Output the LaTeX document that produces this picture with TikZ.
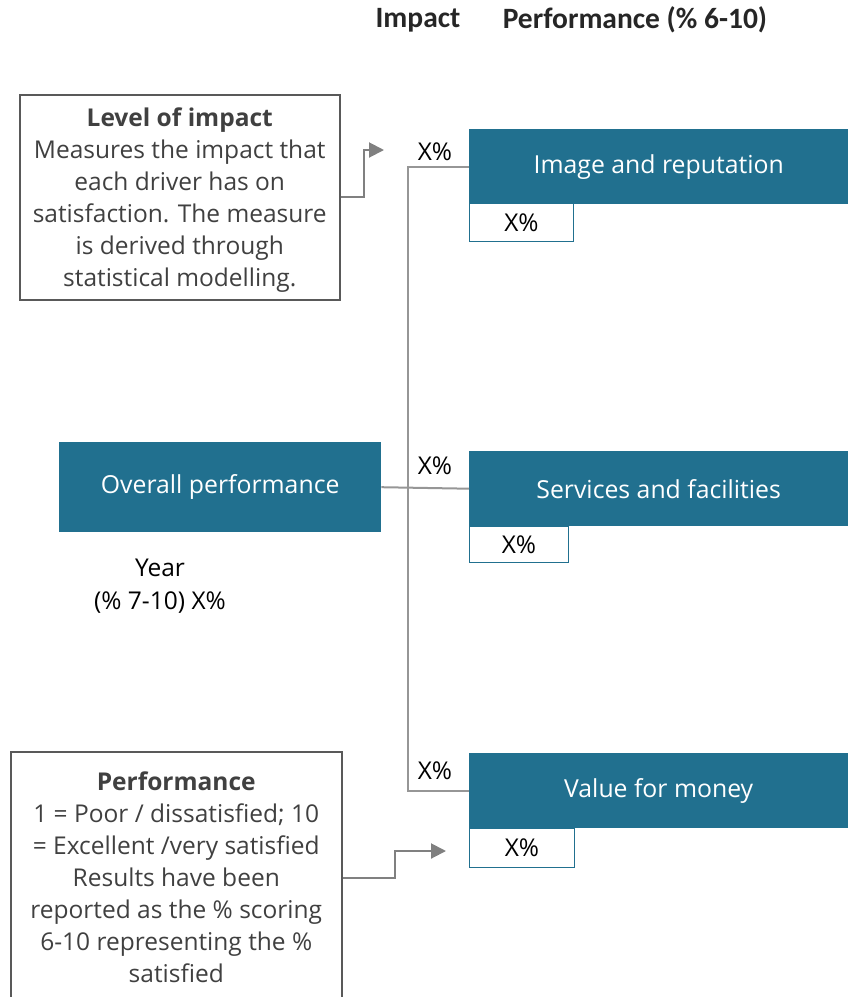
\documentclass[tikz,border=0pt]{standalone}
\usepackage{fontspec}
\setmainfont{Open Sans}
\newfontfamily\hdrfont{Carlito}
\usetikzlibrary{arrows.meta}
\definecolor{tealbox}{RGB}{33,112,143}
\definecolor{connc}{RGB}{128,128,128}
\definecolor{treec}{RGB}{150,150,150}
\definecolor{boxtxt}{RGB}{64,64,64}
\definecolor{boxline}{RGB}{89,89,89}
\definecolor{hdrc}{RGB}{38,38,38}
\begin{document}
\begin{tikzpicture}[x=1pt,y=-1pt,
  driver/.style={fill=tealbox, text=white, inner sep=0pt, minimum width=379pt, minimum height=75pt, anchor=north west, font=\fontsize{24.8}{28}\selectfont},
  pctbox/.style={draw=tealbox, line width=1pt, fill=white, inner sep=0pt, minimum height=38pt, anchor=north west, font=\fontsize{24.5}{28}\selectfont},
  infoframe/.style={draw=boxline, line width=1.5pt, inner sep=0pt, anchor=north west},
  infotext/.style={inner sep=0pt, align=center, text=boxtxt, font=\fontsize{24.5}{32}\selectfont},
  pctlabel/.style={font=\fontsize{24.5}{28}\selectfont, text=black, inner sep=0pt},
  hdr/.style={font=\hdrfont\bfseries\fontsize{29.5}{32}\selectfont, text=hdrc, inner sep=0pt},
  connarrow/.style={draw=connc, line width=2pt, -{Triangle[length=15pt,width=15pt]}},
  treeline/.style={draw=treec, line width=2pt}
]
\useasboundingbox (0,0) rectangle (848,997);

% headers
\node[hdr] (hImpact) at (418,20) {Impact};
\node[hdr] (hPerf) at (635,20) {Performance (\% 6-10)};

% info boxes
\node[infoframe, minimum width=320pt, minimum height=205pt] (lvl) at (19,94) {};
\node[infotext] (lvltext) at ([yshift=-3pt]lvl.center)
  {\textbf{Level of impact}\\Measures the impact that\\each driver has on\\satisfaction. The measure\\is derived through\\statistical modelling.};
\node[infoframe, minimum width=331pt, minimum height=252pt] (perfinfo) at (10,751) {};
\node[infotext] (perftext) at ([yshift=1pt]perfinfo.center)
  {\textbf{Performance}\\1 = Poor / dissatisfied; 10\\= Excellent /very satisfied\\Results have been\\reported as the \% scoring\\6-10 representing the \%\\satisfied};

% driver boxes
\node[driver] (img) at (469,129) {\raisebox{-2pt}{Image and reputation}};
\node[driver] (svc) at (469,451) {Services and facilities};
\node[driver] (val) at (469,753) {\raisebox{-2pt}{Value for money}};

\node[pctbox, minimum width=104pt] (imgp) at (469,203) {X\%};
\node[pctbox, minimum width=99pt, minimum height=36pt] (svcp) at (469,526) {X\%};
\node[pctbox, minimum width=105pt, minimum height=39pt] (valp) at (469,828) {X\%};

% overall
\node[driver, minimum width=322pt, minimum height=90pt] (ovr) at (59,442) {\raisebox{-2pt}{Overall performance}};
\node[pctlabel, align=center, font=\fontsize{24.5}{33}\selectfont] (year) at (160,586) {Year\\(\% 7-10) X\%};

% impact labels
\node[pctlabel] (imgi) at (435,152) {X\%};
\node[pctlabel] (svci) at (435,466) {X\%};
\node[pctlabel] (vali) at (435,771) {X\%};

% tree
\coordinate (trunk) at (408,0);
\draw[treeline] (img.west) -- (img.west -| trunk) -- (val.west -| trunk) -- (val.west);
\draw[treeline] (ovr.east) -- (svc.west);

% arrows
\coordinate (impArrow) at (384,150);
\coordinate (perfArrow) at (446,851);
\draw[connarrow] (lvl.east) -- ++(23,0) |- (impArrow);
\draw[connarrow] (perfinfo.east) -- ++(52,0) |- (perfArrow);
\end{tikzpicture}
\end{document}
